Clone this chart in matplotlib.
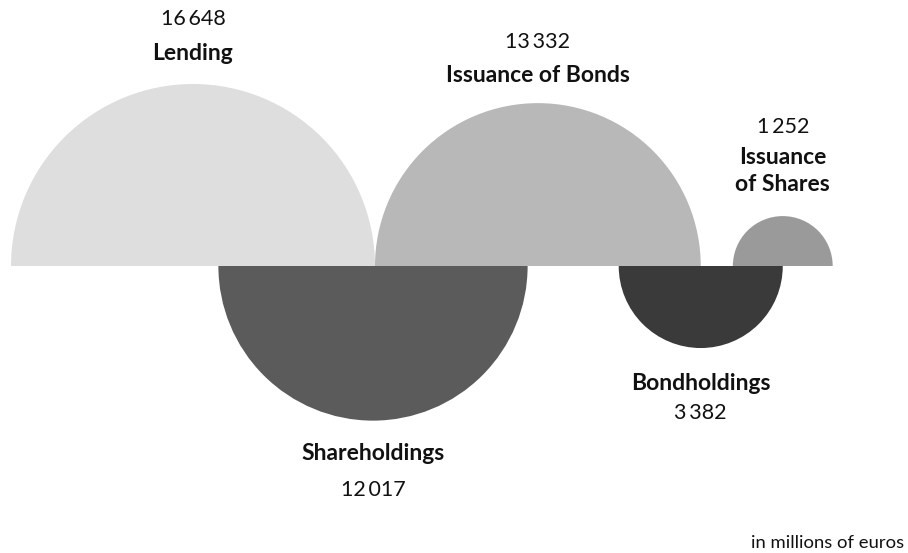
import matplotlib
matplotlib.use("Agg")
import matplotlib.pyplot as plt
from matplotlib.patches import Wedge
import numpy as np

# Capital flows, in millions of euros
names = ["Lending", "Issuance of Bonds", "Issuance\nof Shares", "Shareholdings", "Bondholdings"]
values = [16648, 13332, 1252, 12017, 3382]
side = ["up", "up", "up", "down", "down"]
colors = ["#dedede", "#b8b8b8", "#9a9a9a", "#5b5b5b", "#3a3a3a"]

plt.rcParams['font.family'] = ['Lato', 'DejaVu Sans']

W, H = 908, 553
fig = plt.figure(figsize=(W / 100, H / 100), dpi=100)
ax = fig.add_axes([0, 0, 1, 1])
ax.set_xlim(0, W)
ax.set_ylim(H, 0)
ax.set_aspect('equal')
ax.axis('off')

# area-proportional semicircles
R0 = 182.0
vmax = max(values)
r = [R0 * np.sqrt(v / vmax) for v in values]

base = 266
x0 = 11
c_lend = x0 + r[0]
c_bond = x0 + 2 * r[0] + r[1]
c_bh = c_bond + r[1]
c_sh = x0 + 2 * r[0] - 2
c_shares = c_bh + r[4]
centers = [c_lend, c_bond, c_shares, c_sh, c_bh]

def fmt(v):
    return f"{v:,}".replace(",", "\u2009")

for name, v, s, col, c, rr in zip(names, values, side, colors, centers, r):
    if s == "up":
        ax.add_patch(Wedge((c, base), rr, 180, 360, facecolor=col, edgecolor='none'))
    else:
        ax.add_patch(Wedge((c, base), rr, 0, 180, facecolor=col, edgecolor='none'))

fn = 15.5   # values
fl = 16.5   # category names
tc = '#111111'
# labels above
ax.text(centers[0], 19, fmt(values[0]), ha='center', va='center', fontsize=fn, color=tc)
ax.text(centers[0], 53, names[0], ha='center', va='center', fontsize=fl, fontweight='bold', color=tc)
ax.text(centers[1], 42, fmt(values[1]), ha='center', va='center', fontsize=fn, color=tc)
ax.text(centers[1], 75, names[1], ha='center', va='center', fontsize=fl, fontweight='bold', color=tc)
ax.text(centers[2], 127, fmt(values[2]), ha='center', va='center', fontsize=fn, color=tc)
ax.text(centers[2], 171, names[2], ha='center', va='center', fontsize=fl, fontweight='bold',
        color=tc, linespacing=1.3)
# labels below
ax.text(centers[3], 453, names[3], ha='center', va='center', fontsize=fl, fontweight='bold', color=tc)
ax.text(centers[3], 490, fmt(values[3]), ha='center', va='center', fontsize=fn, color=tc)
ax.text(centers[4], 383, names[4], ha='center', va='center', fontsize=fl, fontweight='bold', color=tc)
ax.text(centers[4], 413, fmt(values[4]), ha='center', va='center', fontsize=fn, color=tc)

ax.text(828, 543, "in millions of euros", ha='center', va='center', fontsize=13.3, color=tc)

fig.savefig("out.png", dpi=100)
